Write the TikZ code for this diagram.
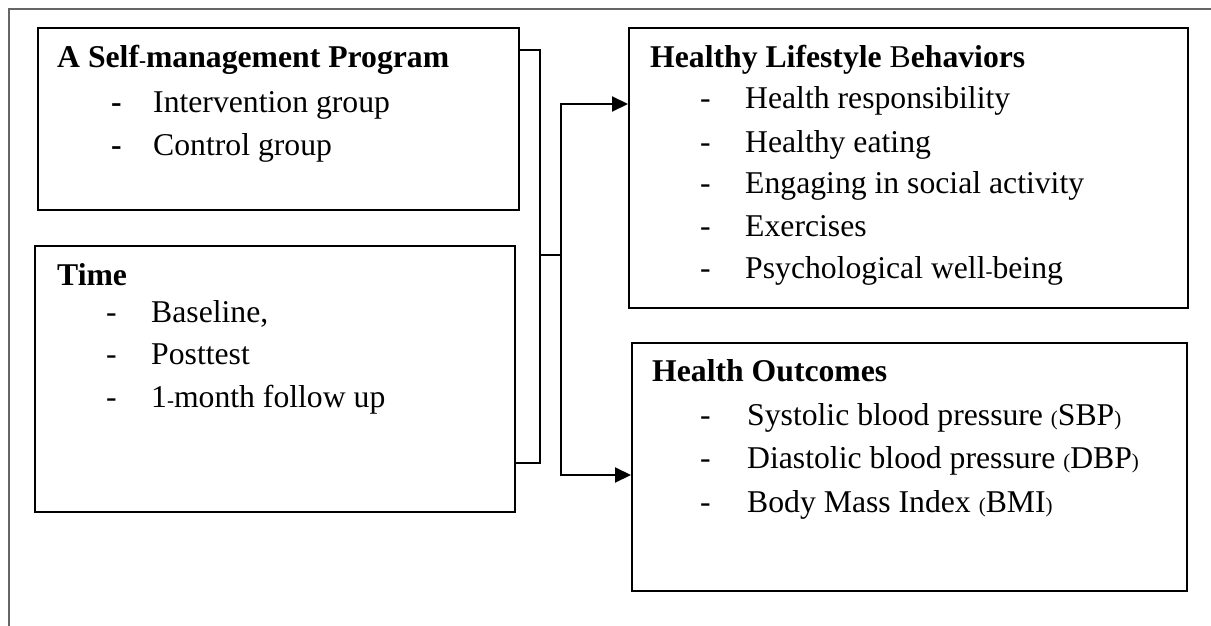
\documentclass[tikz,border=0pt]{standalone}
\usepackage{fontspec}
\setmainfont{Liberation Serif}
\usetikzlibrary{arrows.meta,calc}
\newcommand\boxhead{\fontsize{31.7}{38}\selectfont\bfseries}
\newcommand\boxitem{\fontsize{31.7}{38}\selectfont}
\newcommand\lil[1]{{\fontsize{21}{21}\selectfont #1}}
\tikzset{
  >={Triangle[length=16pt,width=15pt]},
  panel/.style={draw,line width=2pt,anchor=north west,inner sep=0pt},
  head/.style={anchor=base west,inner sep=0pt,font=\boxhead},
  item/.style={anchor=base west,inner sep=0pt,font=\boxitem},
  bullet/.style={anchor=base west,inner sep=0pt,font=\boxitem},
  link/.style={line width=2pt},
  flow/.style={->,line width=2pt},
  frame/.style={draw=black!60,line width=2pt},
}

\begin{document}
\begin{tikzpicture}[x=1pt,y=-1pt]
  \useasboundingbox (0,0) rectangle (1211,626);
  \draw[frame] (1211,9) -- (9,9) -- (9,626);
  % boxes on the left
  \node[panel,minimum width=481pt,minimum height=182pt] (prog) at (37,27) {};
  \node[panel,minimum width=480pt,minimum height=266pt] (time) at (34,245) {};
  % boxes on the right
  \node[panel,minimum width=559pt,minimum height=280pt] (life) at (628,27) {};
  \node[panel,minimum width=555pt,minimum height=248pt] (outc) at (631,342) {};
  % program
  \node[head] (prog-h) at (57,68) {A Self\lil{-}management Program};
  \foreach \y/\t [count=\i] in {112/Intervention group,155/Control group}{
    \node[bullet,font=\boxhead] (prog-d\i) at (111,\y) {-};
    \node[item] (prog-\i) at (153,\y) {\t};
  }
  % time
  \node[head] (time-h) at (57,285) {Time};
  \foreach \y/\t [count=\i] in {322/{Baseline,},364/Posttest,407/1\lil{-}month follow up}{
    \node[bullet] (time-d\i) at (106,\y) {-};
    \node[item] (time-\i) at (151,\y) {\t};
  }
  % lifestyle
  \node[head] (life-h) at (650,67) {Healthy Lifestyle {\mdseries B}ehaviors};
  \foreach \y/\t [count=\i] in {108/Health responsibility,152/Healthy eating,
      193/Engaging in social activity,236/Exercises,278/Psychological well\lil{-}being}{
    \node[bullet] (life-d\i) at (700,\y) {-};
    \node[item] (life-\i) at (745,\y) {\t};
  }
  % outcomes
  \node[head] (outc-h) at (652,381) {Health Outcomes};
  \foreach \y/\t [count=\i] in {425/Systolic blood pressure \lil{(}SBP\lil{)},
      468/Diastolic blood pressure \lil{(}DBP\lil{)},512/Body Mass Index \lil{(}BMI\lil{)}}{
    \node[bullet] (outc-d\i) at (700,\y) {-};
    \node[item] (outc-\i) at (747,\y) {\t};
  }
  % connectors
  \coordinate (join) at (540,255);
  \coordinate (fork) at (561,255);
  \draw[link] ($(prog.north east)+(0,23)$) -| (join) |- ($(time.north east)+(0,218)$);
  \draw[link] (join) -- (fork);
  \draw[flow] (fork) |- ($(life.north west)+(0,77)$);
  \draw[flow] (fork) |- ($(outc.north west)+(0,133)$);
\end{tikzpicture}
\end{document}
